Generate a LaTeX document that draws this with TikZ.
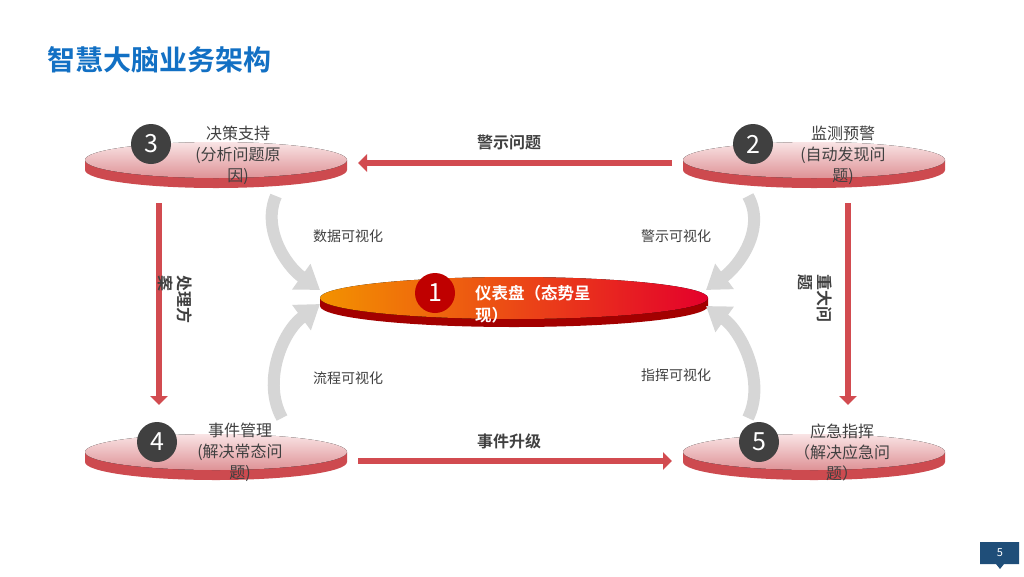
\documentclass[tikz,border=0pt]{standalone}
\usepackage{fontspec}
\setmainfont{Noto Sans CJK SC}[BoldFont={Noto Sans CJK SC Bold}]
\usetikzlibrary{arrows.meta,positioning}
\definecolor{titleblue}{HTML}{1270C4}
\definecolor{diskside}{HTML}{CD4A4F}
\definecolor{disklight}{HTML}{F9E4E5}
\definecolor{diskdark}{HTML}{DE9296}
\definecolor{hubside}{HTML}{A30000}
\definecolor{huborange}{HTML}{F39200}
\definecolor{hubred}{HTML}{E4002B}
\definecolor{redline}{HTML}{D24B50}
\definecolor{darkcirc}{HTML}{404040}
\definecolor{txtgray}{HTML}{404040}
\definecolor{pageblue}{HTML}{1F4E79}

\begin{document}
\begin{tikzpicture}[x=1pt,y=-1pt]
\tikzstyle{every node}+=[inner sep=0pt]
\tikzstyle{num}=[circle, fill=darkcirc, minimum size=40pt, text=white, font=\fontsize{25}{25}\selectfont]
\tikzstyle{disktext}=[align=center, text=txtgray, font=\fontsize{16}{21}\selectfont]
\tikzstyle{redarrow}=[draw=redline, line width=6.5pt, -{Triangle[width=17pt,length=9pt]}]
\tikzstyle{grayarrow}=[draw=gray!32, line width=12pt, -{Triangle[width=30pt,length=23pt]}]
\tikzstyle{arrowlabel}=[text=txtgray, font=\bfseries\fontsize{16}{16}\selectfont]
\tikzstyle{vislabel}=[text=txtgray, font=\fontsize{14}{14}\selectfont]
\useasboundingbox[fill=white] (0,0) rectangle (1024,576);

% title
\node[anchor=west, text=titleblue, font=\bfseries\fontsize{28}{28}\selectfont] (title) at (47,60) {智慧大脑业务架构};

% disks
\fill[diskside] (85,160) -- (85,170) arc[start angle=180, end angle=360, x radius=131pt, y radius=18pt] -- (347,160) -- cycle;
\fill[top color=disklight, bottom color=diskdark] (216,160) ellipse [x radius=131pt, y radius=18pt];
\fill[diskside] (683,160) -- (683,170) arc[start angle=180, end angle=360, x radius=131pt, y radius=18pt] -- (945,160) -- cycle;
\fill[top color=disklight, bottom color=diskdark] (814,160) ellipse [x radius=131pt, y radius=18pt];
\fill[diskside] (85,452) -- (85,462) arc[start angle=180, end angle=360, x radius=131pt, y radius=18pt] -- (347,452) -- cycle;
\fill[top color=disklight, bottom color=diskdark] (216,452) ellipse [x radius=131pt, y radius=18pt];
\fill[diskside] (683,452) -- (683,462) arc[start angle=180, end angle=360, x radius=131pt, y radius=18pt] -- (945,452) -- cycle;
\fill[top color=disklight, bottom color=diskdark] (814,452) ellipse [x radius=131pt, y radius=18pt];
\fill[hubside] (320,298) -- (320,306) arc[start angle=180, end angle=360, x radius=194pt, y radius=21pt] -- (708,298) -- cycle;
\fill[left color=huborange, right color=hubred] (514,298) ellipse [x radius=194pt, y radius=21pt];

% numbers
\node[num, fill=red!75!black] (n1) at (435,293) {1};
\node[num] (n2) at (753,144) {2};
\node[num] (n3) at (151,144) {3};
\node[num] (n4) at (157,442) {4};
\node[num] (n5) at (759,442) {5};

% disk texts
\node[anchor=west, align=left, text=white, font=\bfseries\fontsize{16.5}{22}\selectfont] (t1) at (475,304) {仪表盘（态势呈\\现）};
\node[disktext] (t2) at (843,155) {监测预警\\(自动发现问\\题)};
\node[disktext] (t3) at (238,155) {决策支持\\(分析问题原\\因)};
\node[disktext] (t4) at (240,452) {事件管理\\(解决常态问\\题)};
\node[disktext] (t5) at (842,452) {应急指挥\\（解决应急问\\题）};

% red connectors
\coordinate (a2s) at (672,163);
\coordinate (a3e) at (358,163);
\coordinate (a3s) at (159,203);
\coordinate (a4e) at (159,405);
\coordinate (a4s) at (358,461);
\coordinate (a5e) at (672,461);
\coordinate (a2d) at (848,203);
\coordinate (a5u) at (848,405);
\draw[redarrow] (a2s) -- (a3e);
\draw[redarrow] (a3s) -- (a4e);
\draw[redarrow] (a4s) -- (a5e);
\draw[redarrow] (a2d) -- (a5u);
\node[arrowlabel] (l23) at (509,142) {警示问题};
\node[arrowlabel] (l45) at (509,441) {事件升级};
\node[arrowlabel, rotate=-90, align=left, font=\bfseries\fontsize{16}{19}\selectfont] (l34) at (175,299) {处理方\\案};
\node[arrowlabel, rotate=-90, align=left, font=\bfseries\fontsize{16}{19}\selectfont] (l25) at (815,298) {重大问\\题};

% gray connectors
\coordinate (g3) at (276,196);
\coordinate (g4) at (282,418);
\coordinate (g2) at (748,196);
\coordinate (g5) at (748,418);
\coordinate (h3) at (320,290);
\coordinate (h4) at (320,304);
\coordinate (h2) at (706,290);
\coordinate (h5) at (706,306);
\draw[grayarrow] (g3) .. controls (262,228) and (285,265) .. (h3);
\draw[grayarrow] (g4) .. controls (262,382) and (282,332) .. (h4);
\draw[grayarrow] (g2) .. controls (766,228) and (740,265) .. (h2);
\draw[grayarrow] (g5) .. controls (766,382) and (742,332) .. (h5);
\node[vislabel] (v3) at (348,236) {数据可视化};
\node[vislabel] (v4) at (348,378) {流程可视化};
\node[vislabel] (v2) at (676,236) {警示可视化};
\node[vislabel] (v5) at (676,375) {指挥可视化};

% page number
\fill[pageblue] (980,542) -- (1019,542) -- (1019,564) -- (1004,564) -- (1000,569) -- (996,564) -- (980,564) -- cycle;
\node[text=white, font=\fontsize{11}{11}\selectfont] (page) at (1000,553) {5};
\end{tikzpicture}
\end{document}
